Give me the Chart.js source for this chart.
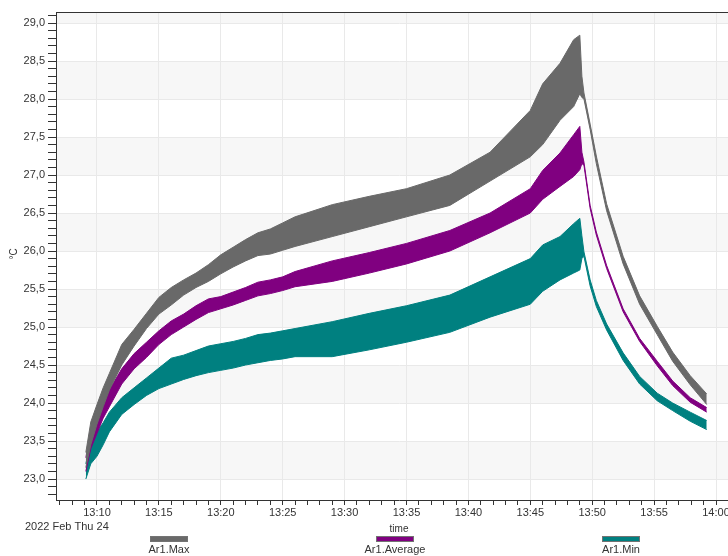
<!DOCTYPE html>
<html>
<head>
<meta charset="utf-8">
<title>Ar1 temperature</title>
<script src="https://cdn.jsdelivr.net/npm/chart.js@4"></script>
<style>
  html, body { margin: 0; padding: 0; background: #fff; overflow: hidden; }
  #wrap { width: 742px; height: 556px; }
</style>
</head>
<body>
<div id="wrap"><canvas id="grafik" width="742" height="556"></canvas></div>
<script>
// Sample times (hh:mm:ss)
const times = [
  "13:09:06", "13:09:30", "13:10:00", "13:10:30", "13:11:00", "13:12:00", "13:13:00", "13:14:00",
  "13:15:00", "13:16:00", "13:17:00", "13:18:00", "13:19:00", "13:20:00", "13:21:00", "13:22:00",
  "13:23:00", "13:24:00", "13:25:00", "13:26:00", "13:29:00", "13:32:00", "13:35:00", "13:38:30",
  "13:41:45", "13:45:00", "13:46:00", "13:47:24", "13:48:30", "13:49:00", "13:49:10", "13:49:20",
  "13:49:50", "13:50:20", "13:51:10", "13:52:30", "13:53:50", "13:55:15", "13:56:30", "13:57:55",
  "13:59:15"
];

// Upper / lower edge of each noisy band (°C)
const maxHi = [23.35, 23.75, 23.98, 24.20, 24.39, 24.77, 24.97, 25.18, 25.39, 25.52, 25.62, 25.71, 25.82, 25.95,
  26.05, 26.15, 26.24, 26.29, 26.37, 26.45, 26.61, 26.72, 26.82, 27.00, 27.30, 27.85, 28.20, 28.47, 28.78, 28.84,
  28.30, 28.08, 27.67, 27.25, 26.62, 25.93, 25.41, 25.01, 24.67, 24.36, 24.12];
const maxLo = [23.15, 23.45, 23.72, 23.95, 24.17, 24.50, 24.75, 24.98, 25.17, 25.29, 25.42, 25.52, 25.60, 25.70,
  25.79, 25.87, 25.94, 25.96, 26.01, 26.06, 26.19, 26.32, 26.45, 26.60, 26.92, 27.24, 27.40, 27.72, 27.90, 28.07,
  28.02, 28.00, 27.60, 27.15, 26.53, 25.83, 25.30, 24.90, 24.55, 24.24, 23.98];
const avgHi = [23.28, 23.65, 23.83, 24.00, 24.17, 24.45, 24.65, 24.80, 24.95, 25.08, 25.17, 25.28, 25.37, 25.40,
  25.46, 25.52, 25.59, 25.62, 25.66, 25.73, 25.87, 25.98, 26.10, 26.27, 26.50, 26.82, 27.06, 27.29, 27.53, 27.64,
  27.30, 27.17, 26.60, 26.25, 25.81, 25.24, 24.85, 24.55, 24.29, 24.07, 23.94];
const avgLo = [23.10, 23.40, 23.60, 23.80, 23.95, 24.25, 24.45, 24.60, 24.77, 24.90, 25.00, 25.10, 25.19, 25.24,
  25.29, 25.35, 25.41, 25.44, 25.48, 25.53, 25.60, 25.71, 25.83, 26.00, 26.24, 26.50, 26.68, 26.85, 26.98, 27.07,
  27.15, 27.13, 26.56, 26.21, 25.77, 25.20, 24.81, 24.49, 24.23, 24.01, 23.88];
const minHi = [23.20, 23.50, 23.62, 23.74, 23.88, 24.07, 24.20, 24.33, 24.46, 24.59, 24.63, 24.69, 24.75, 24.78,
  24.81, 24.85, 24.90, 24.92, 24.95, 24.98, 25.07, 25.18, 25.28, 25.42, 25.66, 25.90, 26.08, 26.19, 26.36, 26.43,
  26.20, 25.99, 25.62, 25.35, 25.04, 24.66, 24.35, 24.13, 24.00, 23.88, 23.77];
const minLo = [23.00, 23.20, 23.30, 23.45, 23.62, 23.85, 23.98, 24.10, 24.19, 24.25, 24.31, 24.36, 24.40, 24.43,
  24.46, 24.50, 24.53, 24.56, 24.58, 24.61, 24.61, 24.70, 24.80, 24.93, 25.13, 25.30, 25.47, 25.62, 25.71, 25.75,
  25.90, 25.93, 25.54, 25.27, 24.96, 24.56, 24.25, 24.03, 23.90, 23.76, 23.65];

const seriesNames = ["Ar1.Max", "Ar1.Average", "Ar1.Min"];
const seriesColors = ["#696969", "#800080", "#008080"];
const dateLabel = "2022 Feb Thu 24";
const xTitle = "time";
const yTitle = "°C";

const FONT = "'Liberation Sans', Arial, sans-serif";
const INK = "#333333";

// minutes after 13:00
function toMinutes(t) {
  const [h, m, s] = t.split(":").map(Number);
  return (h - 13) * 60 + m + s / 60;
}

function clockLabel(v) {
  const total = 13 * 60 + Math.round(v);
  return String(Math.floor(total / 60)).padStart(2, "0") + ":" + String(total % 60).padStart(2, "0");
}

function points(vals) {
  return vals.map((v, i) => ({ x: toMinutes(times[i]), y: v }));
}

function isMajor(v, step) {
  return Math.abs(v / step - Math.round(v / step)) < 1e-6;
}

// Band pair: upper edge fills down to the lower edge
function band(name, color, hi, lo) {
  return [
    { label: name, data: points(hi), borderColor: color, backgroundColor: color, borderWidth: 1, pointRadius: 0, fill: "+1" },
    { label: name + " lo", data: points(lo), borderColor: color, borderWidth: 1, pointRadius: 0, fill: false }
  ];
}

// Alternating light bands behind the grid
const bandPlugin = {
  id: "bands",
  beforeDraw(chart) {
    const { ctx, chartArea: a, scales: { y } } = chart;
    ctx.save();
    ctx.fillStyle = "#f7f7f7";
    for (let v = Math.floor(y.min); v < y.max; v++) {
      const top = Math.max(y.getPixelForValue(v + 0.5), a.top);
      const bot = Math.min(y.getPixelForValue(v), a.bottom);
      if (bot > top) ctx.fillRect(a.left, top, a.right - a.left, bot - top);
    }
    ctx.restore();
  }
};

// Top border, titles, date and legend
const decorPlugin = {
  id: "decor",
  afterDraw(chart) {
    const { ctx, chartArea: a } = chart;
    ctx.save();
    ctx.strokeStyle = INK;
    ctx.lineWidth = 1;
    ctx.beginPath();
    ctx.moveTo(a.left, a.top + 0.5);
    ctx.lineTo(a.right, a.top + 0.5);
    ctx.stroke();

    ctx.fillStyle = INK;
    ctx.textBaseline = "middle";
    ctx.font = "11px " + FONT;
    ctx.textAlign = "left";
    ctx.fillText(dateLabel, 25, 527);

    ctx.textAlign = "center";
    ctx.font = "10px " + FONT;
    ctx.fillText(xTitle, (a.left + a.right) / 2, 529);

    const third = (a.right - 8 - a.left) / 3;
    ctx.font = "11px " + FONT;
    seriesNames.forEach((name, i) => {
      const cx = a.left + third * (i + 0.5);
      ctx.fillStyle = seriesColors[i];
      ctx.fillRect(cx - 18, 537, 36, 4);
      ctx.strokeStyle = "rgba(0,0,0,0.55)";
      ctx.strokeRect(cx - 18.5, 536.5, 37, 5);
      ctx.fillStyle = INK;
      ctx.fillText(name, cx, 550);
    });

    ctx.translate(14, 254);
    ctx.rotate(-Math.PI / 2);
    ctx.font = "10px " + FONT;
    ctx.fillText(yTitle, 0, 0);
    ctx.restore();
  }
};

const xMin = 6.69, xMax = 62.1;
const yMin = 22.724, yMax = 29.145;

const ctx = document.getElementById("grafik").getContext("2d");
new Chart(ctx, {
  type: "line",
  data: {
    datasets: [
      ...band(seriesNames[0], seriesColors[0], maxHi, maxLo),
      ...band(seriesNames[1], seriesColors[1], avgHi, avgLo),
      ...band(seriesNames[2], seriesColors[2], minHi, minLo)
    ]
  },
  options: {
    responsive: false,
    animation: false,
    events: [],
    layout: { padding: { top: 12, left: 0, right: 0, bottom: 0 } },
    plugins: { legend: { display: false }, tooltip: { enabled: false } },
    elements: { line: { tension: 0 } },
    scales: {
      x: {
        type: "linear",
        min: xMin,
        max: xMax,
        afterBuildTicks: s => {
          s.ticks = [];
          for (let v = 7; v <= 62; v++) s.ticks.push({ value: v });
        },
        afterFit: s => { s.height = 56; },
        ticks: {
          autoSkip: false,
          maxRotation: 0,
          padding: 1,
          color: INK,
          font: { family: FONT, size: 11 },
          callback: v => (isMajor(v, 5) ? clockLabel(v) : "")
        },
        grid: {
          color: c => (c.tick && isMajor(c.tick.value, 5) ? "#e9e9e9" : "rgba(0,0,0,0)"),
          tickColor: INK,
          tickLength: 5
        },
        border: { color: INK }
      },
      y: {
        min: yMin,
        max: yMax,
        afterBuildTicks: s => {
          s.ticks = [];
          for (let k = 228; k <= 291; k++) s.ticks.push({ value: k / 10 });
        },
        afterFit: s => { s.width = 56; },
        ticks: {
          autoSkip: false,
          padding: 3,
          color: INK,
          font: { family: FONT, size: 11 },
          callback: v => (isMajor(v, 0.5) ? v.toFixed(1).replace(".", ",") : "")
        },
        grid: {
          color: c => (c.tick && isMajor(c.tick.value, 0.5) ? "#e9e9e9" : "rgba(0,0,0,0)"),
          tickColor: INK,
          tickLength: 8
        },
        border: { color: INK }
      }
    }
  },
  plugins: [bandPlugin, decorPlugin]
});
</script>
</body>
</html>
